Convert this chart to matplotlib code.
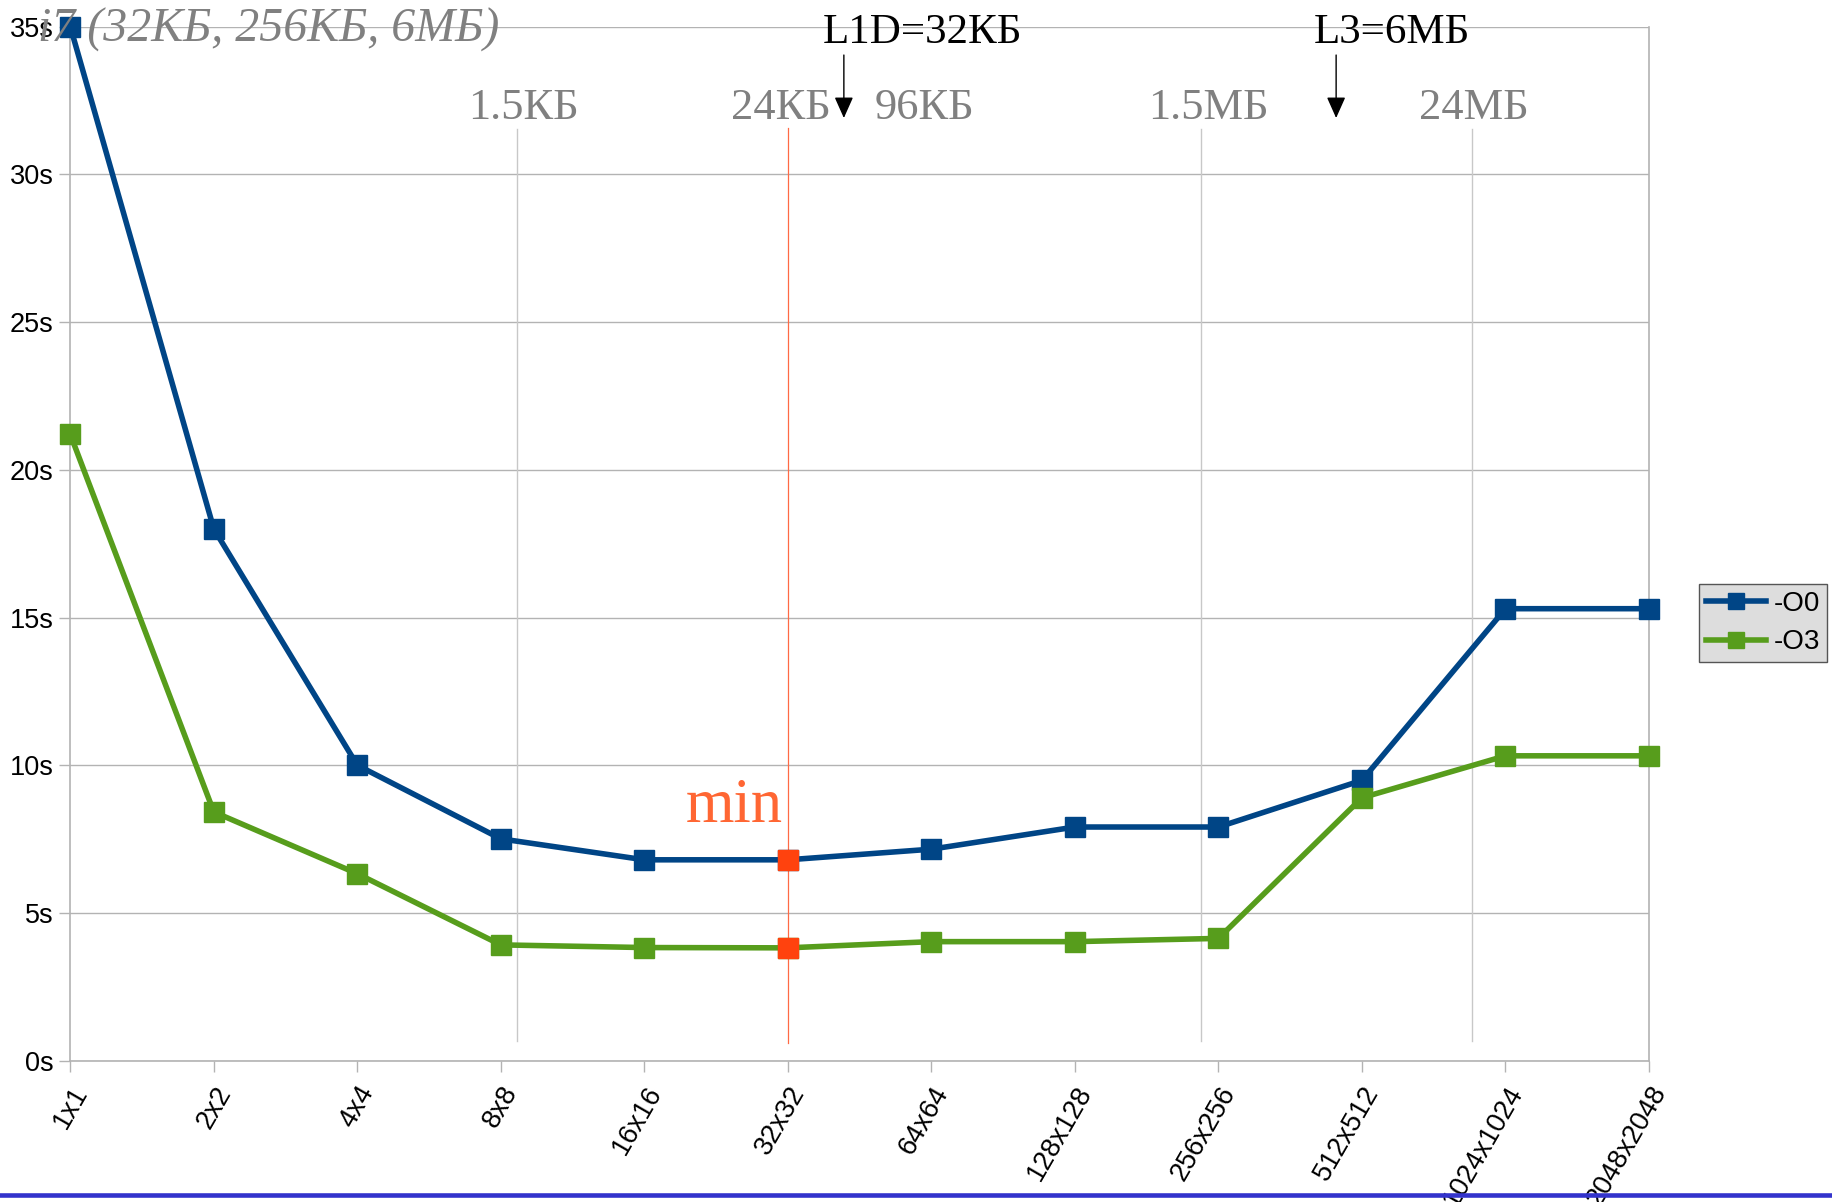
import matplotlib
matplotlib.use("Agg")
import matplotlib.pyplot as plt
from matplotlib.transforms import blended_transform_factory
from matplotlib.lines import Line2D

# ---------------- data ----------------
categories = ["1x1", "2x2", "4x4", "8x8", "16x16", "32x32", "64x64",
              "128x128", "256x256", "512x512", "1024x1024", "2048x2048"]
o0_times = [35.0, 18.0, 10.0, 7.51, 6.80, 6.80, 7.16, 7.91, 7.91, 9.49, 15.30, 15.30]
o3_times = [21.2, 8.42, 6.33, 3.92, 3.83, 3.82, 4.03, 4.03, 4.14, 8.90, 10.32, 10.32]
series_names = ["-O0", "-O3"]
y_ticks = [0, 5, 10, 15, 20, 25, 30, 35]
y_tick_labels = [f"{v}s" for v in y_ticks]
min_category = "32x32"
size_labels = ["1.5КБ", "24КБ", "96КБ", "1.5МБ", "24МБ"]
size_label_pos = [3.16, 4.95, 5.95, 7.93, 9.78]
size_line_pos = [3.11, 7.88, 9.77]
cache_labels = ["L1D=32КБ", "L3=6МБ"]
cache_label_pos = [5.94, 9.21]
cache_arrow_pos = [5.39, 8.82]
title_text = "i7 (32КБ, 256КБ, 6МБ)"

# ---------------- figure ----------------
W, H = 1833, 1202
fig = plt.figure(figsize=(W / 100, H / 100), dpi=100)
ax = fig.add_axes([70.3 / W, 1 - 1060.7 / H, (1649 - 70.3) / W, (1060.7 - 26.7) / H])

blue = "#004586"
green = "#579d1c"
red = "#ff420e"
grid_c = "#b3b3b3"

x = list(range(len(categories)))
l0, = ax.plot(x, o0_times, color=blue, lw=4.0, marker="s", ms=14,
              mec=blue, mfc=blue, label=series_names[0], zorder=4, clip_on=False)
l3, = ax.plot(x, o3_times, color=green, lw=4.0, marker="s", ms=14,
              mec=green, mfc=green, label=series_names[1], zorder=4, clip_on=False)

mi = categories.index(min_category)
ax.plot([mi, mi], [o0_times[mi], o3_times[mi]], ls="none", marker="s", ms=14,
        color=red, zorder=5, clip_on=False)

ax.set_xlim(0, len(categories) - 1)
ax.set_ylim(0, 35)
ax.set_yticks(y_ticks)
ax.set_yticklabels(y_tick_labels, fontsize=19.5, family="Liberation Sans")
ax.set_xticks(x)
ax.set_xticklabels(categories, fontsize=19.5, family="Liberation Sans",
                   rotation=60, ha="right", va="top", rotation_mode="anchor")
ax.tick_params(axis="both", length=8, width=1, color=grid_c, direction="out")
ax.tick_params(axis="y", pad=4)
ax.tick_params(axis="x", pad=7)
ax.yaxis.grid(True, color=grid_c, lw=1)
ax.set_axisbelow(True)
for s in ["left", "bottom", "right"]:
    ax.spines[s].set_color(grid_c)
    ax.spines[s].set_linewidth(1.2)
ax.spines["top"].set_visible(False)

trans = blended_transform_factory(ax.transData, ax.transAxes)

# vertical marker lines
for xp in size_line_pos:
    ax.axvline(xp, ymin=0.019, ymax=0.901, color="#c8c8c8", lw=1, zorder=1)
ax.axvline(mi, ymin=0.017, ymax=0.902, color="#ff6a45", lw=0.9, zorder=3)

# gray size labels
for lab, xp in zip(size_labels, size_label_pos):
    ax.text(xp, 0.9107, lab, transform=trans, ha="center", va="baseline",
            fontsize=32, color="#808080", family="Liberation Serif")

# cache labels and arrows
for lab, xp in zip(cache_labels, cache_label_pos):
    ax.text(xp, 0.9845, lab, transform=trans, ha="center", va="baseline",
            fontsize=31, color="black", family="Liberation Serif", zorder=6)
for xp in cache_arrow_pos:
    ax.annotate("", xy=(xp, 0.9117), xytext=(xp, 0.9726), xycoords=trans,
                textcoords=trans,
                arrowprops=dict(arrowstyle="-|>,head_length=0.65,head_width=0.29",
                                mutation_scale=20, color="black", lw=1,
                                shrinkA=0, shrinkB=0))

# min label
ax.text(mi - 0.37, 8.08, "min", ha="center", va="baseline", fontsize=45,
        color="#ff6633", family="Liberation Serif", zorder=6)

# title
fig.text(38 / W, 1 - 41.7 / H, title_text, ha="left", va="baseline",
         fontsize=34.5, style="italic", color="#808080", family="Liberation Serif",
         zorder=10)

# legend
leg = fig.legend(handles=[l0, l3], loc="center left",
                 bbox_to_anchor=(1699 / W, 1 - 623 / H),
                 bbox_transform=fig.transFigure,
                 prop={"family": "Liberation Sans", "size": 20},
                 frameon=True, fancybox=False, framealpha=1,
                 facecolor="#dddddd", edgecolor="#555555",
                 handlelength=2.15, handletextpad=0.3, borderpad=0.25,
                 labelspacing=0.45, borderaxespad=0, markerscale=0.85)
leg.get_frame().set_linewidth(1.0)

# bottom blue rule
fig.add_artist(Line2D([0, 1], [1 - 1195 / H, 1 - 1195 / H],
                      transform=fig.transFigure, color="#3333cc", lw=3.3,
                      zorder=20))

fig.savefig("out.png", dpi=100)
